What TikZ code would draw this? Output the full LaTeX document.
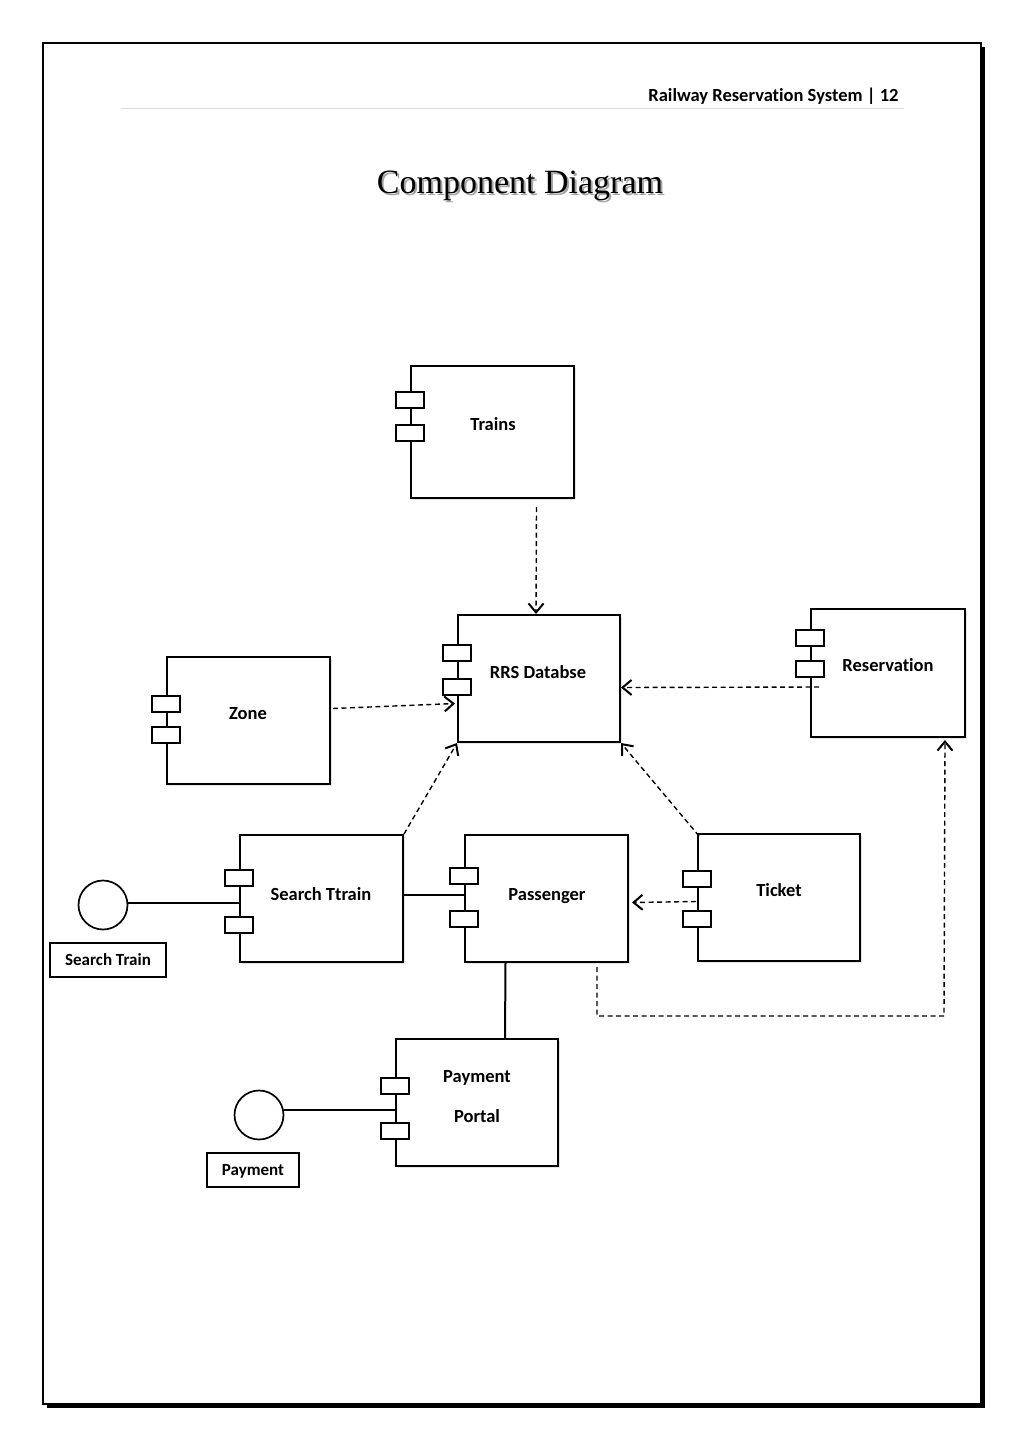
\documentclass[tikz,border=0pt]{standalone}
\usepackage{fontspec}
\setmainfont{Carlito}[Ligatures=NoCommon]
\newfontfamily\titlefont{Liberation Serif}
\usetikzlibrary{arrows.meta,shadows}

\begin{document}
\begin{tikzpicture}[x=1pt,y=-1pt,
    comp/.style={draw=black,fill=white,line width=2pt,inner sep=0pt,minimum width=163pt,minimum height=127pt,drop shadow={shadow xshift=2pt,shadow yshift=-2pt,opacity=0.2}},
    port/.style={draw=black,fill=white,line width=1.6pt,inner sep=0pt,minimum width=28pt,minimum height=16pt},
    ctext/.style={font=\fontsize{18.5}{40}\selectfont\bfseries,align=center,anchor=base},
    iface/.style={shape=circle,draw=black,fill=white,line width=1.7pt,minimum size=49pt,inner sep=0pt},
    tag/.style={draw=black,line width=1.7pt,inner sep=0pt,minimum height=34pt,text depth=0pt,font=\fontsize{17}{20}\selectfont\bfseries},
    dep/.style={line width=1.4pt,dash pattern=on 5pt off 3.5pt,-{Straight Barb[length=9pt,width=15pt,line width=2pt]}},
    link/.style={line width=2pt}]
    \useasboundingbox (0,0) rectangle (1024,1449);
    % page frame
    \fill[black] (47,1403) rectangle (985,1408);
    \fill[black] (980,47) rectangle (985,1408);
    \draw[line width=1.2pt,fill=white] (43,43) rectangle (981,1404);
    \draw[line width=1pt,black!15] (121,108) -- (904,108);
    \node[anchor=base east,font=\fontsize{18.5}{20}\selectfont\bfseries] (header) at (902,101) {Railway Reservation System \textbar{} 12};
    \node[anchor=base,font=\fontsize{34}{38}\selectfont\titlefont,black!35] at (522,195) {Component Diagram};
    \node[anchor=base,font=\fontsize{34}{38}\selectfont\titlefont] (title) at (520,193) {Component Diagram};

    % components
    \node[comp,minimum height=132pt] (Trains) at (492.5,432) {};
    \node[comp,minimum width=162pt] (RRS) at (539,678.5) {};
    \node[comp] (Zone) at (248.5,720.5) {};
    \node[comp,minimum width=154pt,minimum height=128pt] (Reservation) at (888,673) {};
    \node[comp] (Search) at (321.5,898.5) {};
    \node[comp] (Passenger) at (546.5,898.5) {};
    \node[comp,minimum width=162pt] (Ticket) at (779,897.5) {};
    \node[comp,minimum width=162pt] (Payment) at (477,1102.5) {};
    \foreach \n/\a/\b in {Trains/35/68,RRS/39/73,Zone/48/79,Reservation/30/61,Search/44/91,Passenger/42/85,Ticket/46/86,Payment/48/93}
    {
        \node[port] (\n-a) at ([yshift=-\a pt]\n.north west) {};
        \node[port] (\n-b) at ([yshift=-\b pt]\n.north west) {};
    }
    \node[ctext] (Trains-t) at (493,430) {Trains};
    \node[ctext] (RRS-t) at (538,678) {RRS Databse};
    \node[ctext] (Zone-t) at (248,719) {Zone};
    \node[ctext] (Reservation-t) at (888,671) {Reservation};
    \node[ctext] (Search-t) at (321,900) {Search Ttrain};
    \node[ctext] (Passenger-t) at (547,900) {Passenger};
    \node[ctext] (Ticket-t) at (779,896) {Ticket};
    \node[ctext,anchor=center] (Payment-t) at (477,1097) {Payment\\Portal};

    % interfaces
    \node[iface] (SearchIf) at (103,905) {};
    \node[tag,minimum width=116pt] (SearchTag) at (108,960) {Search Train};
    \node[iface] (PayIf) at (259,1115) {};
    \node[tag,minimum width=92pt] (PayTag) at (253,1170) {Payment};
    \path [link] ([yshift=2pt]SearchIf.east) edge ([yshift=-4.5pt]Search.west);
    \path [link] ([yshift=5pt]PayIf.east) edge ([yshift=-7.5pt]Payment.west);

    % connectors
    \path [link] ([yshift=4pt]Search.east) edge ([yshift=4pt]Passenger.west);
    \path [link] ([xshift=-41pt]Passenger.south) edge ([xshift=28pt]Payment.north);
    \path [dep] ([xshift=44pt,yshift=-8pt]Trains.south) edge ([xshift=-3pt]RRS.north);
    \path [dep] ([xshift=2pt,yshift=12pt]Zone.east) edge ([xshift=-2pt,yshift=-25pt]RRS.west);
    \path [dep] ([xshift=9pt,yshift=-14pt]Reservation.west) edge ([yshift=-9pt]RRS.east);
    \path [dep] (Search.north east) edge (RRS.south west);
    \path [dep] ([xshift=2pt,yshift=-3pt]Ticket.north west) edge (RRS.south east);
    \path [dep] ([xshift=-1pt,yshift=-4pt]Ticket.west) edge ([xshift=3pt,yshift=-4pt]Passenger.east);
    \coordinate (turn) at (944,1016);
    \draw [dep] ([xshift=-32pt,yshift=-4pt]Passenger.south east) |- (turn) -- ([xshift=-21pt,yshift=-2pt]Reservation.south east);
\end{tikzpicture}
\end{document}
